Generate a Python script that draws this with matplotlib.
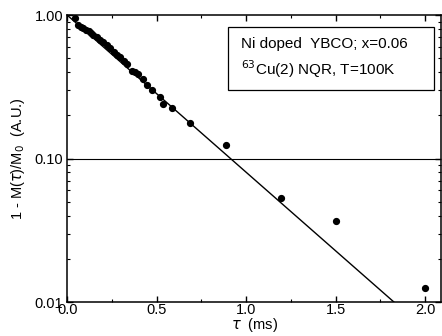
import numpy as np
import matplotlib.pyplot as plt
from matplotlib.patches import Rectangle
from matplotlib.ticker import FixedLocator, NullFormatter

plt.rcParams['font.family'] = ['Liberation Sans', 'DejaVu Sans']

tau = [0.045, 0.063, 0.08, 0.091, 0.105, 0.12, 0.135, 0.147, 0.165, 0.184, 0.2,
       0.222, 0.24, 0.259, 0.28, 0.296, 0.315, 0.333, 0.36, 0.38, 0.398, 0.426,
       0.445, 0.473, 0.52, 0.538, 0.585, 0.687, 0.888, 1.196, 1.5, 2.0]
recov = [0.95, 0.85, 0.83, 0.81, 0.79, 0.77, 0.75, 0.73, 0.70, 0.67, 0.65,
         0.62, 0.59, 0.555, 0.53, 0.51, 0.48, 0.46, 0.41, 0.40, 0.39, 0.36,
         0.325, 0.30, 0.27, 0.24, 0.224, 0.178, 0.124, 0.053, 0.037, 0.0125]

# single exponential fit: decades per ms, drawn until it hits the bottom
fit_rate = 1.095
fit_end = 1.83

fig = plt.figure(figsize=(4.42, 3.36), dpi=100)
ax = fig.add_axes([0.152, 0.101, 0.846, 0.854])

t = np.linspace(0, fit_end, 50)
ax.plot(t, 10 ** (-fit_rate * t), color='black', lw=1.0)
ax.plot(tau, recov, 'o', color='black', ms=4.2)
ax.axhline(0.1, color='black', lw=0.8)

ax.set_yscale('log')
ax.set_ylim(0.01, 1.0)
ax.set_xlim(0, 2.09)
ax.set_yticks([0.01, 0.1, 1.0])
ax.set_yticklabels(['0.01', '0.10', '1.00'])
ax.set_xticks([0.0, 0.5, 1.0, 1.5, 2.0])
ax.set_xticklabels(['0.0', '0.5', '1.0', '1.5', '2.0'])
ax.xaxis.set_minor_locator(FixedLocator([0.25, 0.75, 1.25, 1.75]))
ax.yaxis.set_minor_formatter(NullFormatter())
ax.tick_params(which='both', direction='in', top=True, right=True, labelsize=10.5)
ax.tick_params(axis='x', pad=1)
ax.tick_params(axis='y', pad=3)
ax.tick_params(which='major', length=4, width=1)
ax.tick_params(which='minor', length=2.5, width=0.8)
for s in ax.spines.values():
    s.set_linewidth(1.1)

ax.set_xlabel(r'$\tau$  (ms)', fontsize=10.5, labelpad=-1)
ax.set_ylabel(r'1 - M($\tau$)/M$_0$  (A.U.)', fontsize=10.5, labelpad=5)

ax.add_patch(Rectangle((0.430, 0.739), 0.551, 0.2195, transform=ax.transAxes,
                       fc='white', ec='black', lw=0.9, zorder=3))
ax.text(0.465, 0.85, 'Ni doped  YBCO; x=0.06\n$^{63}$Cu(2) NQR, T=100K',
        transform=ax.transAxes, fontsize=11, va='center', ha='left',
        linespacing=1.45, zorder=4)

fig.savefig('out.png', dpi=100)
